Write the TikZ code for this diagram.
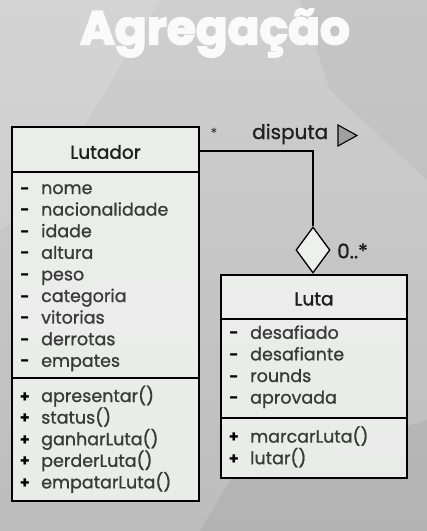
\documentclass[tikz,border=0pt]{standalone}
\usepackage{fontspec}
\setmainfont{Poppins}
\font\memfnt="Poppins:embolden=1" at 17.5pt
\font\headfnt="Poppins:embolden=1.6" at 18.5pt
\font\lblfnt="Poppins:embolden=1" at 20pt
\font\titlefnt="Poppins/B:embolden=3.5" at 47pt
\usetikzlibrary{shapes.geometric}
\definecolor{boxfill}{HTML}{EEF0EE}
\definecolor{txtgray}{HTML}{3A3A3A}
\definecolor{bgA}{HTML}{CFCFCF}
\definecolor{bgB}{HTML}{BDBDBD}
\begin{document}
\begin{tikzpicture}[x=1pt,y=-1pt,
  box/.style={draw=black,line width=1.3pt,fill=boxfill,fill opacity=0.93,text opacity=1,inner sep=0,rectangle},
  title/.style={font=\headfnt,text=black!88},
  vismark/.style={font=\fontsize{16}{17}\selectfont\bfseries,text=black,anchor=base,inner sep=0},
  member/.style={font=\memfnt,text=txtgray,anchor=base west,inner sep=0},
  lbl/.style={font=\lblfnt,text=black!88,inner sep=0},
  star/.style={font=\fontsize{14}{15}\selectfont,text=black!85,inner sep=0},
]
\useasboundingbox (0,0) rectangle (427,531);
\shade[top color=bgA,bottom color=bgB] (0,0) rectangle (427,531);
\fill[white,opacity=0.12] (0,0) -- (160,0) -- (40,200) -- (0,230) -- cycle;
\fill[black,opacity=0.04] (300,0) -- (427,0) -- (427,180) -- (330,90) -- cycle;
\fill[black,opacity=0.05] (230,480) -- (427,420) -- (427,531) -- (200,531) -- cycle;

% title
\node[font=\titlefnt,text=white!96!gray,inner sep=0] (ttl) at (215,33) {Agregação};

% Lutador
\node[box,minimum width=187,minimum height=45] (lutH) at (105.5,149.5) {};
\node[box,minimum width=187,minimum height=206] (lutA) at (105.5,275) {};
\node[box,minimum width=187,minimum height=123] (lutM) at (105.5,439.5) {};
\node[title] (lutT) at (105.5,152) {Lutador};
\foreach \t [count=\i] in {nome,nacionalidade,idade,altura,peso,categoria,vitorias,derrotas,empates}{
  \node[vismark] (lutd\i) at (25,{172.4+21.6*\i}) {-};
  \node[member] (luta\i) at (41,{172.4+21.6*\i}) {\t};
}
\foreach \t [count=\i] in {apresentar(),status(),ganharLuta(),perderLuta(),empatarLuta()}{
  \node[vismark] (lutp\i) at (25,{380.4+21.6*\i}) {+};
  \node[member] (lutm\i) at (41,{380.4+21.6*\i}) {\t};
}

% Luta
\node[box,minimum width=186,minimum height=44] (lH) at (314,297) {};
\node[box,minimum width=186,minimum height=99] (lA) at (314,368.5) {};
\node[box,minimum width=186,minimum height=60] (lM) at (314,448) {};
\node[title] (lT) at (314,299) {Luta};
\foreach \t [count=\i] in {desafiado,desafiante,rounds,aprovada}{
  \node[vismark] (ld\i) at (234,{317.2+21.6*\i}) {-};
  \node[member] (la\i) at (250,{317.2+21.6*\i}) {\t};
}
\foreach \t [count=\i] in {marcarLuta(),lutar()}{
  \node[vismark] (lp\i) at (234,{421+21.6*\i}) {+};
  \node[member] (lm\i) at (250,{421+21.6*\i}) {\t};
}

% aggregation
\node[draw=black,line width=1.3pt,fill=boxfill,diamond,aspect=0.74,minimum width=34,minimum height=46,inner sep=0] (dia) at (313,250) {};
\coordinate (start) at (199,151);
\draw[line width=1.3pt] (start) -| (dia.north);
\node[star] (star1) at (214,133) {*};
\node[lbl,anchor=west] (disp) at (252,134) {disputa};
\draw[line width=1.1pt,fill=gray!75] (338,125) -- (357,135.5) -- (338,146) -- cycle;
\node[lbl,anchor=west] (mult) at (337,251) {0..*};
\end{tikzpicture}
\end{document}
